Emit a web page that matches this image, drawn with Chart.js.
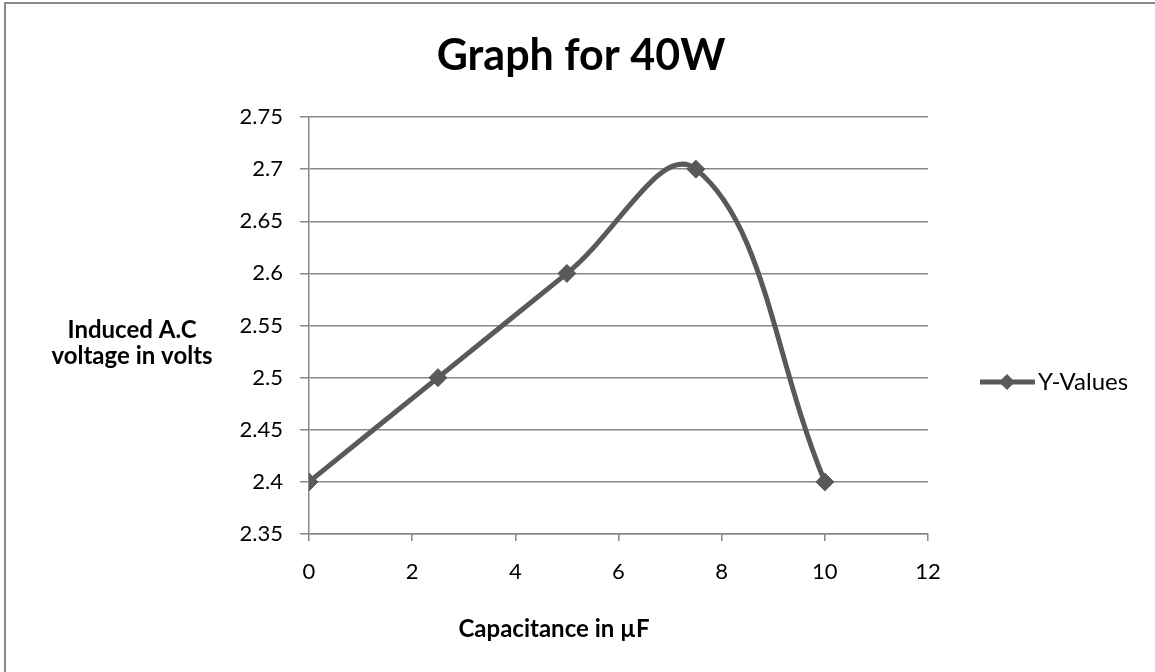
<!DOCTYPE html>
<html>
<head>
<meta charset="utf-8">
<script src="https://cdn.jsdelivr.net/npm/chart.js@4.4.0/dist/chart.umd.min.js"></script>
<style>
  html, body { margin: 0; padding: 0; background: #fff; }
  canvas { display: block; }
</style>
</head>
<body>
<canvas id="chart" width="1155" height="672"></canvas>
<script>
// capacitance (uF) -> x axis
const capacitance = [0, 2.5, 5, 7.5, 10];
// induced voltage (V) -> y axis
const voltage = [2.4, 2.5, 2.6, 2.7, 2.4];
const seriesLabel = 'Y-Values';
const chartTitle = 'Graph for 40W';
const xTitle = 'Capacitance in µF';
const yTitle = ['Induced A.C', 'voltage in volts'];

const FONT = 'Lato, "Open Sans", sans-serif';
const gridGray = '#888888';
const lineGray = '#595959';

// border, titles and excel style legend (title is centred on the whole canvas)
const decor = {
  id: 'decor',
  beforeDraw(chart) {
    const c = chart.ctx;
    c.save();
    c.strokeStyle = gridGray;
    c.lineWidth = 2;
    c.beginPath();
    c.moveTo(5, chart.height);
    c.lineTo(5, 3);
    c.lineTo(chart.width, 3);
    c.stroke();
    c.restore();
  },
  afterDraw(chart) {
    const c = chart.ctx;
    c.save();
    c.fillStyle = '#000';
    c.textAlign = 'center';
    c.textBaseline = 'alphabetic';
    c.font = 'bold 43px ' + FONT;
    c.fillText(chartTitle, 581, 70);

    c.textBaseline = 'middle';
    c.font = 'bold 24px ' + FONT;
    c.fillText(yTitle[0], 132, 330);
    c.fillText(yTitle[1], 132, 356);
    c.fillText(xTitle, 554, 629);

    // legend: line + diamond + label
    const ds = chart.data.datasets[0];
    const ly = 382;
    c.strokeStyle = ds.borderColor;
    c.lineWidth = 5;
    c.beginPath();
    c.moveTo(980, ly);
    c.lineTo(1035, ly);
    c.stroke();
    c.fillStyle = ds.backgroundColor;
    c.beginPath();
    c.moveTo(1007, ly - 8);
    c.lineTo(1015, ly);
    c.lineTo(1007, ly + 8);
    c.lineTo(999, ly);
    c.closePath();
    c.fill();
    c.fillStyle = '#000';
    c.textAlign = 'left';
    c.font = '24px ' + FONT;
    c.fillText(ds.label, 1038, ly);
    c.restore();
  }
};

const data = {
  datasets: [{
    label: seriesLabel,
    data: capacitance.map((x, i) => ({x: x, y: voltage[i]})),
    borderColor: lineGray,
    backgroundColor: lineGray,
    borderWidth: 5,
    pointStyle: 'rectRot',
    pointRadius: 9,
    pointBorderWidth: 1,
    pointHoverRadius: 9,
    tension: 0.4,
    showLine: true
  }]
};

const config = {
  type: 'scatter',
  data: data,
  plugins: [decor],
  options: {
    responsive: false,
    devicePixelRatio: 1,
    animation: false,
    layout: { padding: { top: 117, right: 227, bottom: 0, left: 0 } },
    plugins: {
      legend: { display: false },
      tooltip: { enabled: false },
      title: { display: false }
    },
    scales: {
      x: {
        type: 'linear',
        min: 0,
        max: 12,
        afterFit: (s) => { s.height = 138; },
        ticks: {
          stepSize: 2,
          color: '#000',
          font: { family: FONT, size: 22 },
          padding: 18
        },
        grid: { drawOnChartArea: false, drawTicks: true, tickLength: 7, color: gridGray, lineWidth: 1.5 },
        border: { display: true, color: gridGray, width: 1.5 }
      },
      y: {
        min: 2.35,
        max: 2.75,
        afterFit: (s) => { s.width = 309; },
        ticks: {
          stepSize: 0.05,
          color: '#000',
          font: { family: FONT, size: 22 },
          padding: 17,
          callback: (v) => String(parseFloat(v.toFixed(2)))
        },
        grid: { color: gridGray, lineWidth: 1.5, tickLength: 9 },
        border: { display: true, color: gridGray, width: 1.5 }
      }
    }
  }
};

var myChart = new Chart(document.getElementById('chart').getContext('2d'), config);
</script>
</body>
</html>
